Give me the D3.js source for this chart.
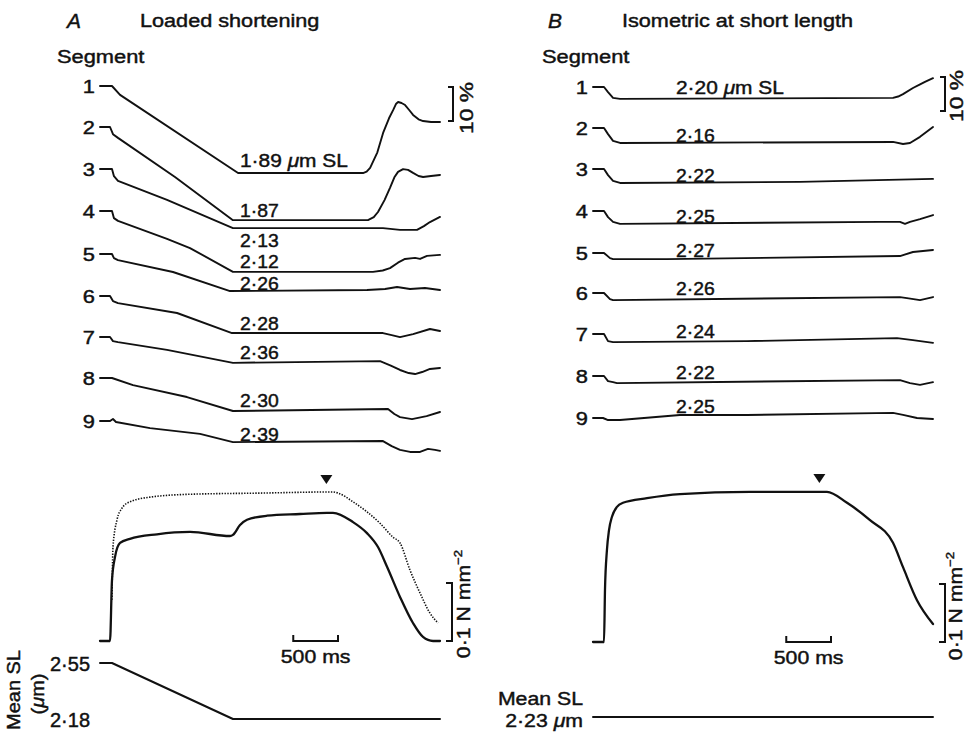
<!DOCTYPE html>
<html>
<head>
<meta charset="utf-8">
<script src="https://cdn.jsdelivr.net/npm/d3@7"></script>
<style>
  html, body { margin: 0; padding: 0; background: #fff; }
  svg { display: block; }
  text { font-family: "Liberation Sans", Arial, Helvetica, sans-serif; fill: #111; stroke: #111; stroke-width: 0.45px; }
</style>
</head>
<body>
<script>
// ---- Data -------------------------------------------------------------
// Time axis shared by both panels (ms from start of record)
const TIME_DOMAIN = [0, 3800];
const segmentIds = [1, 2, 3, 4, 5, 6, 7, 8, 9];

// Segment length change (% of initial length) vs time, loaded shortening
const segA1 = [[0,0],[134,0],[224,-2.6],[1543,-25.6],[2940,-25.6],[2980,-25.2],[3019,-24.1],[3100,-19.5],[3164,-13.8],[3230,-9.5],[3276,-7.1],[3310,-5.2],[3332,-4.7],[3370,-5.0],[3410,-5.6],[3460,-7.2],[3499,-8.5],[3560,-9.8],[3611,-10.3],[3700,-10.6],[3800,-10.6]];
const segA2 = [[0,0],[112,0],[145,-2.1],[201,-3.2],[838,-14.7],[1486,-27.4],[2995,-27.4],[3060,-26.5],[3107,-25.0],[3180,-21.5],[3241,-17.9],[3290,-14.8],[3331,-13.2],[3387,-12.4],[3443,-12.6],[3499,-13.5],[3560,-14.4],[3611,-14.7],[3700,-14.4],[3800,-14.1]];
const segA3 = [[0,0],[134,0],[156,-2.1],[201,-3.5],[749,-9.1],[1486,-17.4],[3163,-17.4],[3353,-17.9],[3543,-17.9],[3620,-16.8],[3688,-15.6],[3800,-14.1]];
const segA4 = [[0,0],[134,0],[156,-2.1],[201,-2.9],[749,-8.2],[1006,-10.9],[1486,-17.9],[3051,-17.9],[3160,-17.5],[3241,-16.8],[3330,-15.2],[3409,-14.1],[3521,-13.8],[3577,-14.1],[3655,-13.2],[3800,-12.9]];
const segA5 = [[0,0],[134,0],[156,-1.2],[201,-1.8],[816,-5.3],[1453,-10.9],[2984,-10.6],[3186,-10.3],[3320,-9.7],[3465,-10.3],[3632,-10.0],[3800,-10.6]];
const segA6 = [[0,0],[112,0],[145,-1.5],[201,-2.1],[861,-5.0],[1475,-10.9],[3163,-10.9],[3260,-11.5],[3353,-12.1],[3499,-11.2],[3688,-9.7],[3800,-10.3]];
const segA7 = [[0,0],[112,0],[145,-1.2],[201,-1.5],[749,-3.8],[1486,-7.6],[3130,-7.1],[3250,-8.4],[3353,-9.7],[3450,-10.6],[3521,-10.9],[3600,-10.3],[3688,-9.4],[3800,-9.1]];
const segA8 = [[0,0],[134,0],[369,-2.1],[972,-5.6],[1486,-9.7],[3219,-9.1],[3290,-10.6],[3353,-11.5],[3487,-12.1],[3650,-11.2],[3800,-10.0]];
const segA9 = [[0,0],[112,0],[145,0.6],[179,-0.3],[559,-2.1],[1118,-3.8],[1486,-6.2],[3163,-5.9],[3260,-7.4],[3353,-8.5],[3465,-9.1],[3577,-9.1],[3666,-8.2],[3744,-8.5],[3800,-8.8]];

// Segment length change (%) vs time, isometric at short length
const segB1 = [[0,0],[123,0],[168,-1.5],[224,-3.2],[302,-3.5],[3353,-3.2],[3410,-2.8],[3465,-2.1],[3576,-0.3],[3650,0.7],[3710,1.5],[3800,2.6]];
const segB2 = [[0,0],[123,0],[168,-1.8],[224,-3.8],[302,-4.4],[3353,-4.1],[3465,-4.7],[3543,-4.4],[3655,-2.6],[3800,0.3]];
const segB3 = [[0,0],[123,0],[168,-1.8],[224,-3.5],[302,-4.1],[2313,-3.8],[3800,-2.9]];
const segB4 = [[0,0],[123,0],[168,-1.8],[224,-3.2],[302,-3.8],[3208,-3.2],[3431,-3.2],[3487,-3.8],[3543,-3.2],[3655,-2.4],[3800,-1.2]];
const segB5 = [[0,0],[123,0],[190,-1.5],[224,-1.8],[827,-1.8],[3431,-0.9],[3576,0.3],[3800,0.9]];
const segB6 = [[0,0],[123,0],[190,-1.8],[224,-2.1],[3431,-1.2],[3509,-1.5],[3655,-2.1],[3800,-1.2]];
const segB7 = [[0,0],[123,0],[168,-2.1],[224,-2.4],[1721,-2.1],[3398,-1.2],[3576,-1.8],[3800,-2.6]];
const segB8 = [[0,0],[123,0],[168,-1.5],[224,-1.8],[268,-2.1],[3431,-1.2],[3543,-2.1],[3655,-2.6],[3800,-1.8]];
const segB9 = [[0,0],[112,0],[168,-0.6],[302,-0.6],[972,0.9],[1721,0.9],[3353,1.5],[3465,0.9],[3621,0],[3800,-0.3]];

// Sarcomere length (µm) reached by each segment
const slLoaded = ["1·89", "1·87", "2·13", "2·12", "2·26", "2·28", "2·36", "2·30", "2·39"];
const slShort  = ["2·20", "2·16", "2·22", "2·25", "2·27", "2·26", "2·24", "2·22", "2·25"];

// Force (N mm^-2) vs time
const forceLoaded    = [[0,0],[112,0],[134,0.105],[168,0.145],[224,0.169],[335,0.176],[637,0.184],[1006,0.188],[1453,0.181],[1486,0.183],[1565,0.200],[1643,0.209],[1866,0.216],[2235,0.219],[2537,0.221],[2604,0.221],[2828,0.205],[2984,0.186],[3107,0.162],[3208,0.128],[3353,0.076],[3498,0.031],[3610,0.007],[3722,0],[3800,0]];
const forceIsometric = [[134,0.071],[145,0.162],[190,0.209],[246,0.229],[335,0.240],[559,0.248],[1006,0.253],[1788,0.255],[2604,0.257],[2660,0.255],[2828,0.240],[3129,0.203],[3275,0.179],[3353,0.169],[3465,0.122],[3576,0.083],[3688,0.048],[3778,0.031]];
const forceShort     = [[0,0],[123,0],[134,0.090],[156,0.159],[179,0.193],[212,0.216],[268,0.233],[335,0.240],[604,0.248],[972,0.255],[1755,0.259],[2615,0.259],[2839,0.240],[3096,0.210],[3353,0.171],[3465,0.129],[3621,0.072],[3800,0.031]];

// Mean sarcomere length (µm) vs time
const meanSLLoaded = [[0,2.55],[134,2.55],[1486,2.18],[3800,2.18]];
const meanSLShort  = [[0,2.23],[3800,2.23]];
const meanSLTicks  = [2.55, 2.18];

// Stimulus-off marker and calibration bars
const MARK_T = 2530;
const TIME_BAR = [2160, 2660];   // 500 ms
const PCT_BAR = 10;              // 10 %
const FORCE_BAR = 0.1;           // 0·1 N mm^-2

// ---- Drawing ----------------------------------------------------------
const W = 968, H = 739;
const svg = d3.select("body").append("svg").attr("width", W).attr("height", H);
svg.append("rect").attr("width", W).attr("height", H).attr("fill", "#fff");

const fmtSL = v => d3.format(".2f")(v).replace(".", "·");

function txt(parent, x, y, parts, o = {}) {
  const size = o.size || 19;
  let tr = `translate(${x},${y})`;
  if (o.rot) tr += ` rotate(${o.rot})`;
  tr += ` scale(${o.sx || 1.12},1)`;
  const t = parent.append("text")
    .attr("transform", tr)
    .attr("text-anchor", o.anchor || "start")
    .style("font-size", size + "px");
  if (o.italic) t.style("font-style", "italic");
  (Array.isArray(parts) ? parts : [parts]).forEach(p => {
    if (typeof p === "string") { t.append("tspan").text(p); return; }
    const s = t.append("tspan").text(p.t);
    if (p.italic) s.style("font-style", "italic");
    if (p.sup) { s.style("font-size", (size * 0.62) + "px").attr("dy", -size * 0.42); }
  });
  return t;
}

function drawLine(g, data, x, y, o = {}) {
  g.append("path")
    .attr("d", d3.line().curve(o.curve || d3.curveLinear).x(d => x(d[0])).y(d => y(d[1]))(data))
    .attr("fill", "none")
    .attr("stroke", "#111")
    .attr("stroke-width", o.width || 1.9)
    .attr("stroke-linejoin", "round")
    .attr("stroke-linecap", o.dash ? "butt" : "round")
    .attr("stroke-dasharray", o.dash || null);
}

const PX_PER_PCT = 3.4;

function drawPanel(cfg) {
  const g = svg.append("g");
  const x = d3.scaleLinear().domain(TIME_DOMAIN).range(cfg.xRange);

  // headings
  txt(g, cfg.letterX, 28, cfg.letter, { italic: true, size: 20, sx: 1.05 });
  txt(g, cfg.titleX, 27, cfg.title, { sx: 1.14 });
  txt(g, cfg.segmentX, 63, "Segment", { sx: 1.15 });

  // segment traces
  cfg.segs.forEach((data, i) => {
    const base = cfg.bases[i];
    const y = d3.scaleLinear().domain([0, -PCT_BAR]).range([base, base + PCT_BAR * PX_PER_PCT]);
    drawLine(g, data, x, y, { width: 1.9 });
    txt(g, cfg.xRange[0] - 5, base + 7, String(segmentIds[i]), { anchor: "end", sx: 1.15 });
    const parts = i === 0 ? [cfg.sl[i] + " ", { t: "μ", italic: true }, "m SL"] : [cfg.sl[i]];
    txt(g, cfg.slX, cfg.slY[i], parts, { sx: i === 0 ? 1.1 : 1.02 });
  });

  // 10 % calibration
  const yPct = d3.scaleLinear().domain([0, PCT_BAR]).range([cfg.pctTop, cfg.pctTop + PCT_BAR * PX_PER_PCT]);
  g.append("path")
    .attr("d", `M${cfg.pctX - 5},${yPct(0)}H${cfg.pctX}V${yPct(PCT_BAR)}H${cfg.pctX - 5}`)
    .attr("fill", "none").attr("stroke", "#111").attr("stroke-width", 2);
  txt(g, cfg.pctLabel[0], cfg.pctLabel[1], "10 %", { rot: -90, anchor: "middle", sx: 1.2 });

  // force
  const yF = d3.scaleLinear().domain([0, FORCE_BAR]).range([cfg.forceBase, cfg.forceBase - 58]);
  if (cfg.forceDotted) drawLine(g, cfg.forceDotted, x, yF, { width: 1.6, dash: "1.4 1.4", curve: d3.curveMonotoneX });
  drawLine(g, cfg.force, x, yF, { width: 2.3, curve: d3.curveMonotoneX });

  // stimulus-off marker
  const mx = x(MARK_T);
  g.append("path")
    .attr("d", `M${mx - 6},${cfg.markY}L${mx + 6},${cfg.markY}L${mx},${cfg.markY + 9}Z`)
    .attr("fill", "#111");

  // 500 ms bar
  const tb0 = x(TIME_BAR[0]), tb1 = x(TIME_BAR[1]);
  g.append("path")
    .attr("d", `M${tb0},${cfg.forceBase - 6}V${cfg.forceBase}H${tb1}V${cfg.forceBase - 6}`)
    .attr("fill", "none").attr("stroke", "#111").attr("stroke-width", 2);
  txt(g, (tb0 + tb1) / 2, cfg.forceBase + 22, "500 ms", { anchor: "middle", sx: 1.12 });

  // force calibration
  g.append("path")
    .attr("d", `M${cfg.fBarX - 6},${yF(FORCE_BAR)}H${cfg.fBarX}V${yF(0)}H${cfg.fBarX - 6}`)
    .attr("fill", "none").attr("stroke", "#111").attr("stroke-width", 2);
  txt(g, cfg.fLabel[0], cfg.fLabel[1], ["0·1 N mm", { t: "−2", sup: true }], { rot: -90, anchor: "middle", sx: 1.12 });

  return { g, x };
}

// Panel A: loaded shortening
const A = drawPanel({
  xRange: [100, 440],
  letter: "A", letterX: 67, title: "Loaded shortening", titleX: 140, segmentX: 57,
  segs: [segA1, segA2, segA3, segA4, segA5, segA6, segA7, segA8, segA9],
  bases: [86, 127, 169, 211, 254, 296, 337, 378, 421],
  sl: slLoaded, slX: 240, slY: [167, 217, 247, 268, 290, 330, 359, 407, 441],
  pctX: 453, pctTop: 87, pctLabel: [473, 108],
  force: forceLoaded, forceDotted: forceIsometric, forceBase: 641,
  markY: 475, fBarX: 452, fLabel: [470, 604]
});

// Panel B: isometric at short length
const B = drawPanel({
  xRange: [593, 933],
  letter: "B", letterX: 548, title: "Isometric at short length", titleX: 622, segmentX: 542,
  segs: [segB1, segB2, segB3, segB4, segB5, segB6, segB7, segB8, segB9],
  bases: [87, 128, 169, 211, 253, 293, 334, 376, 418],
  sl: slShort, slX: 676, slY: [94, 142, 182, 223, 257, 295, 338, 379, 413],
  pctX: 945, pctTop: 77, pctLabel: [963, 96],
  force: forceShort, forceDotted: null, forceBase: 642,
  markY: 474, fBarX: 945, fLabel: [962, 606]
});

// Mean sarcomere length, panel A
const ySLA = d3.scaleLinear().domain([2.18, 2.55]).range([719, 663]);
drawLine(A.g, meanSLLoaded, A.x, ySLA, { width: 2 });
meanSLTicks.forEach(v => txt(A.g, 90, ySLA(v) + 8, fmtSL(v), { anchor: "end", size: 20, sx: 1.0 }));
txt(A.g, 20, 690, "Mean SL", { rot: -90, anchor: "middle", sx: 1.05 });
txt(A.g, 44, 694, ["(", { t: "μ", italic: true }, "m)"], { rot: -90, anchor: "middle", sx: 1.05 });

// Mean sarcomere length, panel B
const ySLB = d3.scaleLinear().domain([2.13, 2.33]).range([732, 702]);
drawLine(B.g, meanSLShort, B.x, ySLB, { width: 2 });
txt(B.g, 583, 705, "Mean SL", { anchor: "end", sx: 1.12 });
txt(B.g, 583, 727, [fmtSL(meanSLShort[0][1]) + " ", { t: "μ", italic: true }, "m"], { anchor: "end", sx: 1.12 });
</script>
</body>
</html>
